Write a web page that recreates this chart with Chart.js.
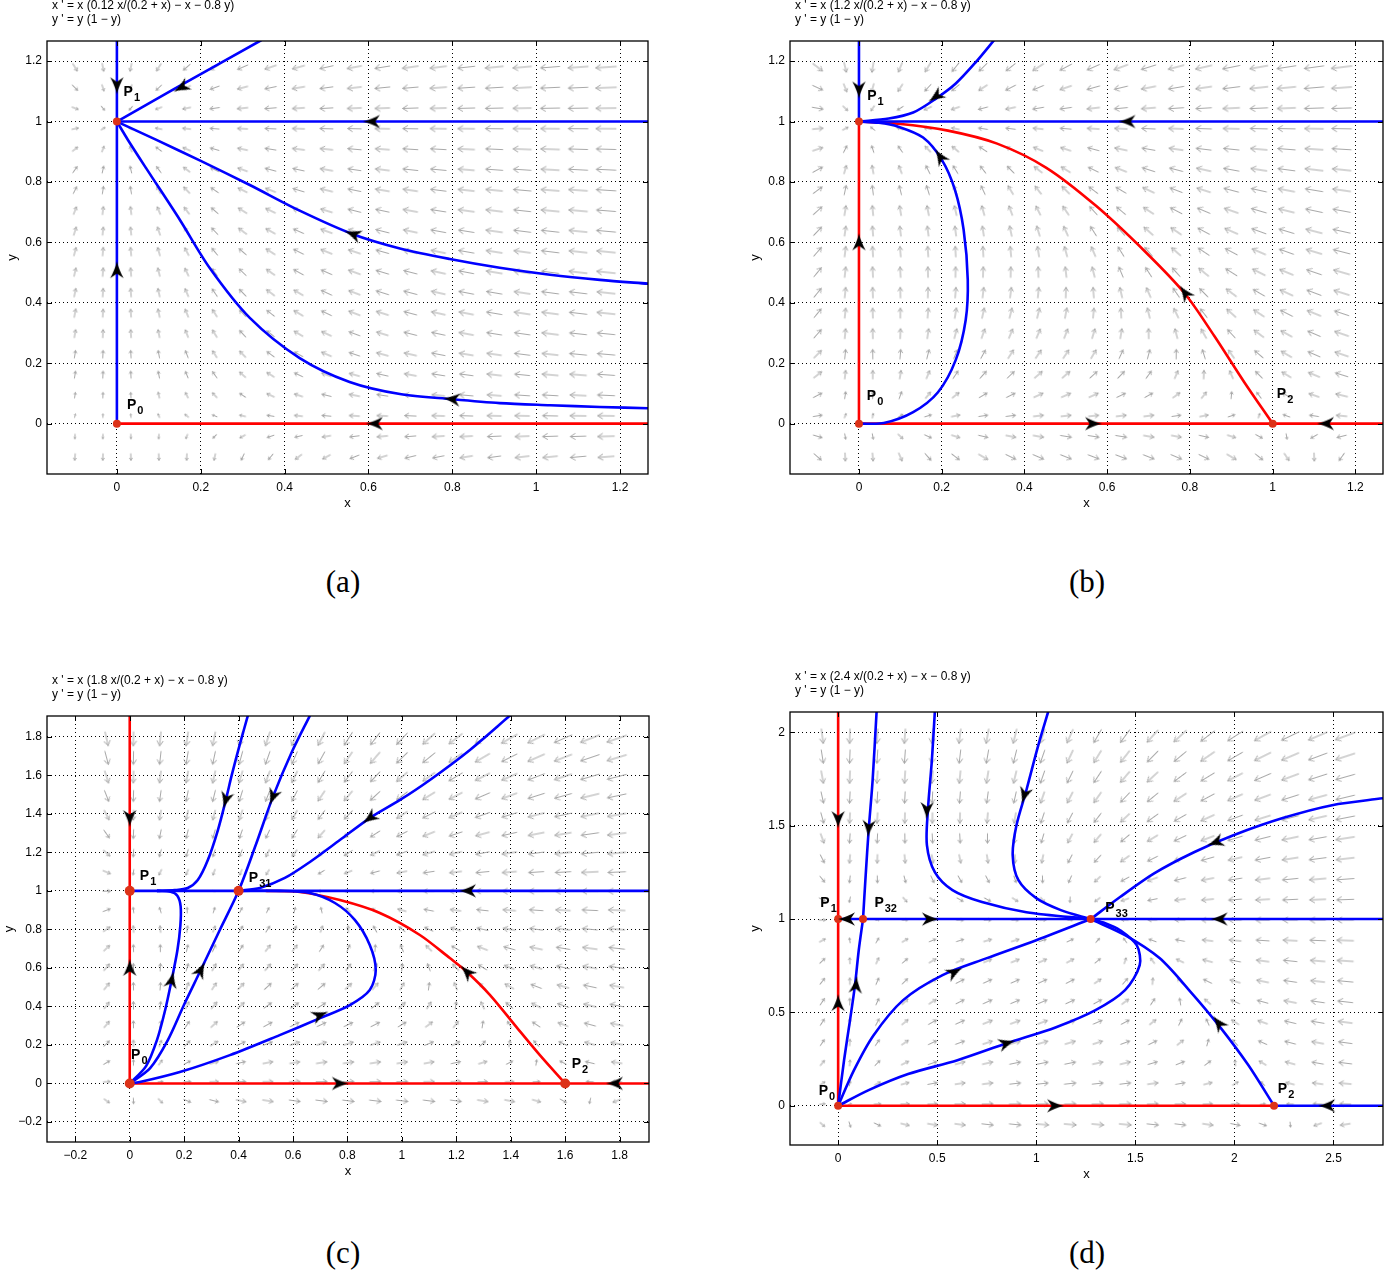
<!DOCTYPE html>
<html>
<head>
<meta charset="utf-8">
<script src="https://cdn.jsdelivr.net/npm/chart.js@4.4.1/dist/chart.umd.min.js"></script>
<style>
  body { margin: 0; width: 1392px; height: 1274px; background: #fff; position: relative; overflow: hidden; }
  canvas { position: absolute; }
  .cap { position: absolute; width: 200px; text-align: center; line-height: 36px;
         font-family: "Liberation Serif", "DejaVu Serif", serif; font-size: 31px; color: #000; }
</style>
</head>
<body>
<canvas id="pa" width="696" height="530" style="left:0;top:0"></canvas>
<canvas id="pb" width="696" height="530" style="left:696px;top:0"></canvas>
<canvas id="pc" width="696" height="560" style="left:0;top:637px"></canvas>
<canvas id="pd" width="696" height="560" style="left:696px;top:637px"></canvas>
<div class="cap" style="left:243px;top:564px">(a)</div>
<div class="cap" style="left:987px;top:564px">(b)</div>
<div class="cap" style="left:243px;top:1235px">(c)</div>
<div class="cap" style="left:987px;top:1235px">(d)</div>
<script>
// x' = x (a x/(0.2 + x) - x - 0.8 y),  y' = y (1 - y)
const aParam = [0.12, 1.2, 1.8, 2.4];

const titles = [
  ["x ' = x (0.12 x/(0.2 + x) \u2212 x \u2212 0.8 y)", "y ' = y (1 \u2212 y)"],
  ["x ' = x (1.2 x/(0.2 + x) \u2212 x \u2212 0.8 y)", "y ' = y (1 \u2212 y)"],
  ["x ' = x (1.8 x/(0.2 + x) \u2212 x \u2212 0.8 y)", "y ' = y (1 \u2212 y)"],
  ["x ' = x (2.4 x/(0.2 + x) \u2212 x \u2212 0.8 y)", "y ' = y (1 \u2212 y)"]
];

const xRange = [[-0.1667, 1.2667], [-0.1667, 1.2667], [-0.304, 1.908], [-0.243, 2.75]];
const yRange = [[-0.1667, 1.2667], [-0.1667, 1.2667], [-0.304, 1.908], [-0.21, 2.109]];
const xTicks = [
  [0, 0.2, 0.4, 0.6, 0.8, 1, 1.2],
  [0, 0.2, 0.4, 0.6, 0.8, 1, 1.2],
  [-0.2, 0, 0.2, 0.4, 0.6, 0.8, 1, 1.2, 1.4, 1.6, 1.8],
  [0, 0.5, 1, 1.5, 2, 2.5]
];
const yTicks = [
  [0, 0.2, 0.4, 0.6, 0.8, 1, 1.2],
  [0, 0.2, 0.4, 0.6, 0.8, 1, 1.2],
  [-0.2, 0, 0.2, 0.4, 0.6, 0.8, 1, 1.2, 1.4, 1.6, 1.8],
  [0, 0.5, 1, 1.5, 2]
];

// direction field sample window (first / last arrow centre), 20 x 20 arrows
const fieldX = [[-0.1, 1.167], [-0.1, 1.167], [-0.085, 1.79], [-0.08, 2.56]];
const fieldY = [[-0.11, 1.18], [-0.11, 1.18], [-0.09, 1.79], [-0.1, 1.98]];
const fieldN = 20;

// ---- panel (a)
const bluesA = [
  [[0, 1.27], [0, 1]],
  [[0, 0], [0, 1]],
  [[0, 1], [0.138, 1.109], [0.345, 1.27]],
  [[0, 1], [1.27, 1]],
  [[0, 1], [0.093, 0.94], [0.2, 0.87], [0.317, 0.79], [0.436, 0.705], [0.563, 0.627],
   [0.675, 0.58], [0.794, 0.545], [0.913, 0.516], [1.033, 0.493], [1.152, 0.476], [1.27, 0.463]],
  [[0, 1], [0.026, 0.94], [0.07, 0.845], [0.15, 0.675], [0.221, 0.516], [0.317, 0.35], [0.436, 0.217],
   [0.555, 0.138], [0.675, 0.098], [0.799, 0.081], [0.913, 0.068], [1.033, 0.061], [1.152, 0.055], [1.27, 0.051]]
];
const redsA = [[[0, 0], [1.27, 0]]];
const headsA = [[0, 1.12, 90], [0, 0.508, -90], [0.154, 1.113, 151], [0.608, 1, 180], [0.563, 0.627, 200],
  [0.799, 0.081, 186], [0.615, 0, 180]];
const eqA = [[0, 0], [0, 1]];
const labelsA = [["0", 0.024, 0.05], ["1", 0.016, 1.085]];

// ---- panel (b)
const bluesB = [
  [[0, 1.27], [0, 1]],
  [[0, 1], [0.072, 1.01], [0.131, 1.03], [0.186, 1.076], [0.234, 1.126], [0.282, 1.196], [0.327, 1.27]],
  [[0, 1], [1.27, 1]],
  [[0, 0], [0.06, 0.002], [0.131, 0.038], [0.191, 0.104], [0.234, 0.211], [0.258, 0.343], [0.263, 0.476],
   [0.253, 0.642], [0.232, 0.774], [0.2, 0.874], [0.155, 0.947], [0.095, 0.983], [0.048, 0.996], [0, 1]]
];
const redsB = [
  [[0, 0], [0, 1]],
  [[0, 1], [0.095, 0.993], [0.215, 0.97], [0.334, 0.927], [0.453, 0.847], [0.573, 0.721], [0.692, 0.569],
   [0.788, 0.43], [0.859, 0.29], [0.931, 0.138], [1, 0]],
  [[0, 0], [1.27, 0]]
];
const headsB = [[0, 1.106, 90], [0, 0.6, -90], [0.186, 1.083, 145], [0.649, 1, 180], [0.788, 0.433, 234],
  [0.196, 0.884, 237], [0.566, 0, 0], [1.129, 0, 180]];
const eqB = [[0, 0], [0, 1], [1, 0]];
const labelsB = [["1", 0.02, 1.073], ["0", 0.019, 0.078], ["2", 1.01, 0.085]];

// ---- panel (c)
const bluesC = [
  [[0, 1], [1.91, 1]],
  [[0.434, 1.91], [0.404, 1.758], [0.375, 1.602], [0.353, 1.472], [0.324, 1.316], [0.287, 1.16], [0.25, 1.056],
   [0.213, 1.015], [0.165, 1.004], [0.1, 1]],
  [[0, 0], [0.075, 0.08], [0.14, 0.225], [0.2, 0.41], [0.261, 0.589], [0.331, 0.797], [0.4, 1], [0.463, 1.238],
   [0.526, 1.488], [0.596, 1.722], [0.662, 1.91]],
  [[0, 0], [0.06, 0.09], [0.1, 0.225], [0.13, 0.38], [0.154, 0.537], [0.175, 0.69], [0.186, 0.82],
   [0.187, 0.92], [0.175, 0.975], [0.15, 0.995], [0.1, 1]],
  [[0.4, 1], [0.551, 1], [0.662, 0.989], [0.754, 0.937], [0.827, 0.849], [0.882, 0.719], [0.904, 0.589],
   [0.882, 0.485], [0.809, 0.407], [0.699, 0.339], [0.551, 0.251], [0.368, 0.147], [0.184, 0.059], [0.037, 0.007], [0, 0]],
  [[1.397, 1.91], [1.25, 1.732], [1.103, 1.576], [0.993, 1.472], [0.882, 1.378], [0.772, 1.264], [0.662, 1.15],
   [0.57, 1.067], [0.478, 1.015], [0.4, 1]]
];
const redsC = [
  [[0, 1.91], [0, 0]],
  [[0.5, 1], [0.625, 0.994], [0.772, 0.952], [0.919, 0.885], [1.066, 0.771], [1.176, 0.651], [1.239, 0.579],
   [1.324, 0.459], [1.415, 0.303], [1.507, 0.147], [1.6, 0]],
  [[0, 0], [1.91, 0]]
];
const headsC = [[0, 1.378, 90], [0, 0.6, -90], [1.243, 1, 180], [0.353, 1.472, 105], [0.261, 0.589, -63],
  [0.526, 1.488, 111], [0.154, 0.537, -78], [0.699, 0.355, -22], [0.882, 1.378, 144], [1.239, 0.579, 225],
  [0.772, 0, 0], [1.783, 0, 180]];
const eqC = [[0, 0], [0, 1], [0.4, 1], [1.6, 0]];
const labelsC = [["1", 0.037, 1.056], ["31", 0.4375, 1.046], ["0", 0.005, 0.125], ["2", 1.624, 0.078]];

// ---- panel (d)
const bluesD = [
  [[0.194, 2.11], [0.174, 1.743], [0.154, 1.476], [0.139, 1.235], [0.1255, 1]],
  [[0, 0], [0.03, 0.245], [0.06, 0.459], [0.085, 0.646], [0.104, 0.833], [0.1255, 1]],
  [[0, 1], [2.75, 1]],
  [[0.488, 2.11], [0.473, 1.85], [0.453, 1.583], [0.448, 1.396], [0.488, 1.251], [0.577, 1.155], [0.726, 1.091],
   [0.95, 1.037], [1.2745, 1]],
  [[1.06, 2.11], [1.01, 1.93], [0.95, 1.69], [0.9, 1.502], [0.881, 1.342], [0.91, 1.208], [1.0, 1.112],
   [1.124, 1.048], [1.2745, 1]],
  [[2.75, 1.647], [2.493, 1.61], [2.244, 1.541], [1.995, 1.449], [1.796, 1.358], [1.597, 1.246], [1.423, 1.118], [1.2745, 1]],
  [[0, 0], [0.154, 0.084], [0.353, 0.17], [0.602, 0.244], [0.851, 0.335], [1.1, 0.421], [1.299, 0.512],
   [1.448, 0.619], [1.522, 0.753], [1.507, 0.86], [1.423, 0.94], [1.348, 0.978], [1.2745, 1]],
  [[0, 0], [0.08, 0.191], [0.179, 0.378], [0.328, 0.566], [0.527, 0.7], [0.751, 0.791], [1.0, 0.887], [1.2745, 1]],
  [[1.2745, 1], [1.448, 0.914], [1.622, 0.791], [1.771, 0.62], [1.92, 0.432], [2.07, 0.218], [2.2, 0]],
  [[2.2, 0], [2.75, 0]]
];
const redsD = [[[0, 2.11], [0, 0]], [[0, 0], [2.2, 0]]];
const headsD = [[0, 1.535, 90], [0, 0.55, -90], [0.154, 1.487, 94], [0.09, 0.646, -85], [0.045, 1, 180],
  [0.463, 1, 0], [1.925, 1, 180], [0.448, 1.583, 92], [0.94, 1.663, 106], [1.905, 1.411, 160],
  [0.851, 0.335, -17], [0.587, 0.716, -28], [1.92, 0.443, 232], [1.095, 0, 0], [2.468, 0, 180]];
const eqD = [[0, 0], [0, 1], [0.1255, 1], [1.2745, 1], [2.2, 0]];
const labelsD = [["1", -0.09, 1.062], ["32", 0.183, 1.065], ["33", 1.348, 1.037], ["0", -0.098, 0.057], ["2", 2.219, 0.07]];

const panels = [
  { id: "pa", blues: bluesA, reds: redsA, heads: headsA, eq: eqA, labels: labelsA },
  { id: "pb", blues: bluesB, reds: redsB, heads: headsB, eq: eqB, labels: labelsB },
  { id: "pc", blues: bluesC, reds: redsC, heads: headsC, eq: eqC, labels: labelsC },
  { id: "pd", blues: bluesD, reds: redsD, heads: headsD, eq: eqD, labels: labelsD }
];

// where the plot box sits inside each canvas: [left, top, right, bottom]
const boxes = [[47, 41, 648, 474], [94, 41, 695, 474], [47, 79, 649, 505], [94, 75, 695, 508]];
const yTitlePad = [1.2, 1.2, -1.8, 1.2];

const FONT = "'Liberation Sans', Arial, Helvetica, sans-serif";

function field(a, x, y) {
  return [x * (a * x / (0.2 + x) - x - 0.8 * y), y * (1 - y)];
}

function fmt(v) {
  if (v === 0) return "0";
  return (v < 0 ? "\u2212" : "") + String(Math.abs(v));
}

// small grey field arrows, cached by length
const quiverCache = {};
function quiverSprite(len) {
  let L = Math.round(len * 2) / 2;
  if (!isFinite(L) || L < 3) L = 3;
  if (quiverCache[L]) return quiverCache[L];
  const s = Math.ceil(L) + 7;
  const c = document.createElement("canvas");
  c.width = c.height = s;
  const g = c.getContext("2d");
  g.translate(s / 2, s / 2);
  g.strokeStyle = "#a8a8a8";
  g.lineWidth = 1;
  const h = Math.min(6, L * 0.42);
  g.beginPath();
  g.moveTo(-L / 2, 0); g.lineTo(L / 2, 0);
  g.moveTo(L / 2 - h * 0.86, -h * 0.52); g.lineTo(L / 2, 0); g.lineTo(L / 2 - h * 0.86, h * 0.52);
  g.stroke();
  quiverCache[L] = c;
  return c;
}

// black flow arrowhead pointing to +x
const headCanvas = (function () {
  const c = document.createElement("canvas");
  c.width = c.height = 26;
  const g = c.getContext("2d");
  g.translate(13, 13);
  g.fillStyle = "#000";
  g.beginPath();
  g.moveTo(9, 0);
  g.quadraticCurveTo(-1, -2.5, -8, -6.8);
  g.lineTo(-3.5, 0);
  g.lineTo(-8, 6.8);
  g.quadraticCurveTo(-1, 2.5, 9, 0);
  g.closePath();
  g.fill();
  return c;
})();

function fieldData(p) {
  const pts = [];
  const [x0, x1] = fieldX[p], [y0, y1] = fieldY[p];
  for (let i = 0; i < fieldN; i++) {
    for (let j = 0; j < fieldN; j++) {
      pts.push({ x: x0 + (x1 - x0) * i / (fieldN - 1), y: y0 + (y1 - y0) * j / (fieldN - 1) });
    }
  }
  return pts;
}

function screenVec(chart, p, pt) {
  const sx = chart.scales.x, sy = chart.scales.y;
  if (!sx || !sy) return [NaN, NaN];
  const kx = (sx.getPixelForValue(1) - sx.getPixelForValue(0));
  const ky = (sy.getPixelForValue(1) - sy.getPixelForValue(0));
  const f = field(aParam[p], pt.x, pt.y);
  return [f[0] * kx, f[1] * ky];
}

function makeDecor(p) {
  return {
    id: "decor" + p,
    afterDatasetsDraw(chart) {
      const { ctx, chartArea: ca, scales } = chart;
      ctx.save();
      ctx.strokeStyle = "#000";
      ctx.lineWidth = 1.3;
      ctx.strokeRect(ca.left, ca.top, ca.width, ca.height);
      ctx.lineWidth = 1;
      ctx.beginPath();
      xTicks[p].forEach(v => {
        const px = Math.round(scales.x.getPixelForValue(v)) + 0.5;
        ctx.moveTo(px, ca.bottom); ctx.lineTo(px, ca.bottom - 5);
        ctx.moveTo(px, ca.top); ctx.lineTo(px, ca.top + 5);
      });
      yTicks[p].forEach(v => {
        const py = Math.round(scales.y.getPixelForValue(v)) + 0.5;
        ctx.moveTo(ca.left, py); ctx.lineTo(ca.left + 5, py);
        ctx.moveTo(ca.right, py); ctx.lineTo(ca.right - 5, py);
      });
      ctx.stroke();

      ctx.fillStyle = "#000";
      ctx.textAlign = "left";
      ctx.textBaseline = "alphabetic";
      panels[p].labels.forEach(([sub, x, y]) => {
        const px = scales.x.getPixelForValue(x), py = scales.y.getPixelForValue(y);
        ctx.font = "bold 14px " + FONT;
        ctx.fillText("P", px, py);
        const w = ctx.measureText("P").width;
        ctx.font = "bold 11px " + FONT;
        ctx.fillText(sub, px + w + 1, py + 5);
      });

      ctx.font = "12px " + FONT;
      ctx.textBaseline = "middle";
      titles[p].forEach((line, i) => ctx.fillText(line, ca.left + 5, ca.top - 35 + 14 * i));
      ctx.restore();
    }
  };
}

function curveSet(pts, color) {
  return {
    data: pts.map(([x, y]) => ({ x, y })),
    showLine: true,
    borderColor: color,
    borderWidth: 2.6,
    pointRadius: 0,
    tension: 0.3,
    order: 2
  };
}

panels.forEach((panel, p) => {
  const [l, t, r, b] = boxes[p];
  const canvas = document.getElementById(panel.id);
  const cw = canvas.width, ch = canvas.height;
  const yW = 44, xH = 40;

  const datasets = [];
  datasets.push({
    data: panel.heads.map(([x, y]) => ({ x, y })),
    pointStyle: headCanvas,
    pointRotation: ctx => panel.heads[ctx.dataIndex][2],
    pointRadius: 8,
    order: 0
  });
  datasets.push({
    data: panel.eq.map(([x, y]) => ({ x, y })),
    pointStyle: "circle",
    pointRadius: p === 2 ? 5 : 4,
    backgroundColor: "#dc3218",
    borderWidth: 0,
    order: 1
  });
  panel.blues.forEach(c => datasets.push(curveSet(c, "#0000ff")));
  panel.reds.forEach(c => datasets.push(curveSet(c, "#ff0000")));

  const grid = fieldData(p);
  let maxMag = NaN;
  datasets.push({
    data: grid,
    pointRadius: 6,
    order: 3,
    pointStyle: ctx => {
      const chart = ctx.chart;
      if (!(maxMag > 0)) {
        maxMag = 0;
        grid.forEach(pt => {
          const v = screenVec(chart, p, pt);
          maxMag = Math.max(maxMag, Math.hypot(v[0], v[1]));
        });
      }
      if (!ctx.raw || !(maxMag > 0)) return quiverSprite(3);
      const v = screenVec(chart, p, ctx.raw);
      const m = Math.hypot(v[0], v[1]);
      return quiverSprite(21 * Math.cbrt(m / maxMag));
    },
    pointRotation: ctx => {
      if (!ctx.raw) return 0;
      const v = screenVec(ctx.chart, p, ctx.raw);
      const ang = Math.atan2(v[1], v[0]) * 180 / Math.PI;
      return isFinite(ang) ? ang : 0;
    }
  });

  const tickFont = { family: FONT, size: 12 };
  new Chart(canvas, {
    type: "scatter",
    data: { datasets },
    options: {
      responsive: false,
      animation: false,
      events: [],
      layout: { padding: { left: l - yW, top: t, right: cw - r, bottom: ch - b - xH } },
      plugins: { legend: { display: false }, tooltip: { enabled: false } },
      scales: {
        x: {
          type: "linear",
          min: xRange[p][0],
          max: xRange[p][1],
          afterBuildTicks: s => { s.ticks = xTicks[p].map(v => ({ value: v })); },
          afterFit: s => { s.height = xH; },
          grid: { color: "#000", lineWidth: 1, drawTicks: false },
          border: { display: false, dash: [1, 3] },
          ticks: { padding: 6, color: "#000", font: tickFont, maxRotation: 0, autoSkip: false, callback: v => fmt(v) },
          title: { display: true, text: "x", color: "#000", font: { family: FONT, size: 13 }, padding: { top: 0, bottom: 2.5 } }
        },
        y: {
          type: "linear",
          min: yRange[p][0],
          max: yRange[p][1],
          afterBuildTicks: s => { s.ticks = yTicks[p].map(v => ({ value: v })); },
          afterFit: s => { s.width = yW; },
          grid: { color: "#000", lineWidth: 1, drawTicks: false },
          border: { display: false, dash: [1, 3] },
          ticks: { padding: 5, color: "#000", font: tickFont, autoSkip: false, callback: v => fmt(v) },
          title: { display: true, text: "y", color: "#000", font: { family: FONT, size: 13 }, padding: { top: yTitlePad[p], bottom: 0 } }
        }
      }
    },
    plugins: [makeDecor(p)]
  });
});
</script>
</body>
</html>
